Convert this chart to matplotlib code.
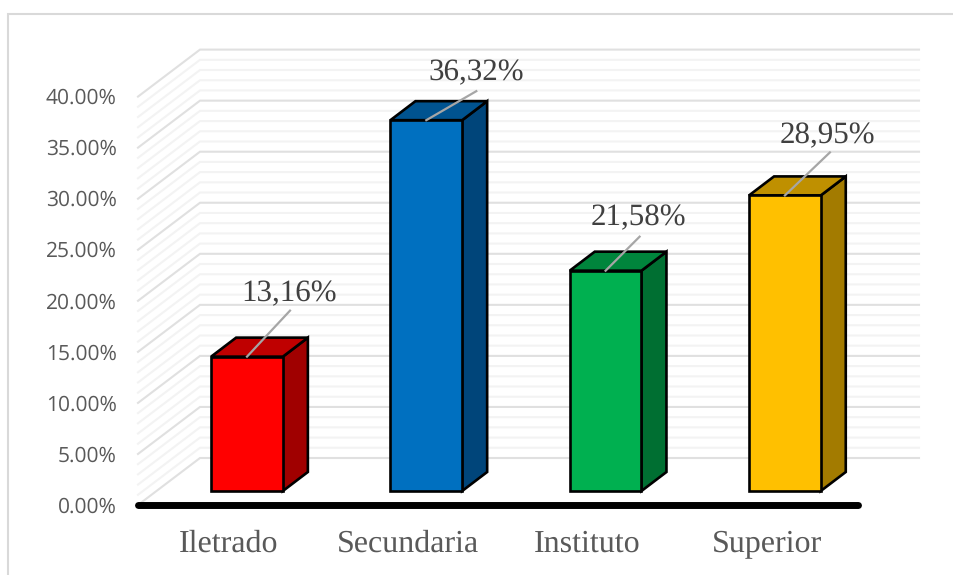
import matplotlib
matplotlib.use("Agg")
import matplotlib.pyplot as plt
from matplotlib.patches import Polygon

plt.rcParams["text.hinting"] = "none"
plt.rcParams["text.hinting_factor"] = 1

categories = ["Iletrado", "Secundaria", "Instituto", "Superior"]
values = [13.16, 36.32, 21.58, 28.95]
value_labels = ["13,16%", "36,32%", "21,58%", "28,95%"]
front_colors = ["#FF0000", "#0070C0", "#00B050", "#FFC000"]
top_colors = ["#BF0000", "#005390", "#00853C", "#BF9000"]
side_colors = ["#A00000", "#00457A", "#006F32", "#A37B00"]
major_ticks = [0, 5, 10, 15, 20, 25, 30, 35, 40]
minor_ticks = [v for v in range(0, 41) if v % 5]
tick_labels = ["0.00%", "5.00%", "10.00%", "15.00%", "20.00%", "25.00%", "30.00%", "35.00%", "40.00%"]

# layout: pixel offsets of each value label and leader end from the bar-top centre
label_offsets = [(42, 63), (50, 47.5), (33, 52.5), (42.5, 60)]
leader_offsets = [(43, 46), (50, 29), (34, 34), (45, 43)]

W, H = 954, 575
PX_X = 179.3   # px per category
PX_Y = 10.21   # px per percent
X0 = 247.0     # px of first category
Y0 = 491.0     # px of value 0 at bars' front plane

fig = plt.figure(figsize=(W / 100, H / 100), dpi=100, facecolor="white")
ax = fig.add_axes([0, 0, 1, 1])
ax.set_xlim(-X0 / PX_X, (W - X0) / PX_X)
ax.set_ylim(-(H - Y0) / PX_Y, Y0 / PX_Y)
ax.axis("off")

dx = lambda p: p / PX_X
dy = lambda p: p / PX_Y

# chart frame: top and left edges only, drawn in figure pixels
fig.add_artist(plt.Line2D([8.5 / W, 8.5 / W, 1], [0, 1 - 14 / H, 1 - 14 / H], transform=fig.transFigure,
                          color="#D9D9D9", lw=1.5, solid_joinstyle="miter"))

# walls: front-left corner, back-left corner, back-right end
fx, fy0 = dx(138 - X0), dy(-14)
bx, by0 = dx(200 - X0), dy(33)
rx = dx(919 - X0)

for ticks, col, lw in ((minor_ticks, "#F3F3F3", 1.5), (major_ticks, "#E0E0E0", 1.5)):
    for v in ticks:
        ax.plot([fx, bx, rx], [fy0 + v, by0 + v, by0 + v], color=col, lw=lw,
                solid_joinstyle="miter", zorder=1)

# floor axis
ax.plot([dx(138 - X0), dx(858 - X0)], [fy0, fy0], color="black", lw=5.0, solid_capstyle="round", zorder=2)

# bars
W_BAR = 0.40
ddx, ddy = dx(25), dy(19)
edge = dict(ec="black", lw=1.9, joinstyle="miter", zorder=3)
for i, (v, fc, tc, sc) in enumerate(zip(values, front_colors, top_colors, side_colors)):
    l, r = i - W_BAR / 2, i + W_BAR / 2
    ax.add_patch(Polygon([(r, 0), (r + ddx, ddy), (r + ddx, v + ddy), (r, v)], fc=sc, **edge))
    ax.add_patch(Polygon([(l, v), (r, v), (r + ddx, v + ddy), (l + ddx, v + ddy)], fc=tc, **edge))
    ax.add_patch(Polygon([(l, 0), (r, 0), (r, v), (l, v)], fc=fc, **edge))
    ldx, ldy = leader_offsets[i]
    ax.plot([i, i + dx(ldx)], [v, v + dy(ldy)], color="#A6A6A6", lw=1.6, zorder=4)
    tdx, tdy = label_offsets[i]
    ax.text(i + dx(tdx), v + dy(tdy), value_labels[i], ha="center", va="center",
            family="Liberation Serif", fontsize=22.2, color="#404040", zorder=5)

# tick labels
for v, lab in zip(major_ticks, tick_labels):
    ax.text(dx(116.5 - X0), fy0 + v - dy(2), lab, ha="right", va="center",
            family="Open Sans", fontsize=15, color="#595959")

# category labels
for i, c in enumerate(categories):
    ax.text(i - dx(18), dy(-53), c, ha="center", va="center",
            family="Liberation Serif", fontsize=23, color="#595959")

fig.savefig("out.png", dpi=100)
